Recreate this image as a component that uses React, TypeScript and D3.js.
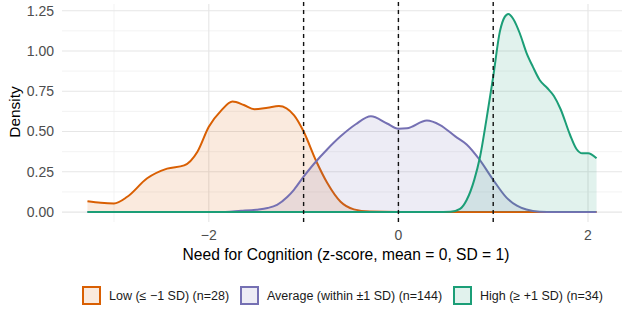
import * as d3 from "d3";

// density curves, [z-score, density]
const lowCurve: [number, number][] = [
  [-3.28, 0.068], [-3.14, 0.058], [-3.0, 0.054], [-2.86, 0.095], [-2.65, 0.21],
  [-2.44, 0.27], [-2.26, 0.29], [-2.12, 0.375], [-2.0, 0.53], [-1.87, 0.63],
  [-1.75, 0.686], [-1.63, 0.665], [-1.52, 0.639], [-1.38, 0.648], [-1.26, 0.658],
  [-1.1, 0.6], [-1.0, 0.5], [-0.87, 0.32], [-0.75, 0.18], [-0.61, 0.064],
  [-0.47, 0.017], [-0.3, 0.003], [0.0, 0], [2.09, 0],
];
const averageCurve: [number, number][] = [
  [-3.28, 0], [-1.9, 0], [-1.66, 0.008], [-1.5, 0.015], [-1.38, 0.025],
  [-1.28, 0.045], [-1.17, 0.095], [-1.1, 0.14], [-1.0, 0.22], [-0.89, 0.3],
  [-0.75, 0.39], [-0.61, 0.47], [-0.45, 0.545], [-0.29, 0.595], [-0.12, 0.55],
  [0.0, 0.518], [0.09, 0.52], [0.3, 0.568], [0.44, 0.54], [0.6, 0.47],
  [0.72, 0.42], [0.85, 0.33], [1.0, 0.2], [1.14, 0.09], [1.25, 0.04],
  [1.35, 0.016], [1.49, 0.002], [1.65, 0], [2.09, 0],
];
const highCurve: [number, number][] = [
  [-3.28, 0], [0.4, 0], [0.55, 0.002], [0.65, 0.02], [0.72, 0.075],
  [0.8, 0.2], [0.86, 0.34], [0.93, 0.58], [1.0, 0.84], [1.07, 1.12],
  [1.12, 1.21], [1.16, 1.23], [1.21, 1.2], [1.28, 1.11], [1.35, 0.99],
  [1.42, 0.9], [1.49, 0.82], [1.57, 0.77], [1.64, 0.72], [1.71, 0.64],
  [1.81, 0.48], [1.88, 0.39], [1.94, 0.365], [2.0, 0.365], [2.09, 0.334],
];

const groupNames = ["Low (≤ −1 SD) (n=28)", "Average (within ±1 SD) (n=144)", "High (≥ +1 SD) (n=34)"];
const groupColors = ["#D95F02", "#7570B3", "#1B9E77"];
const cutoffs = [-1, 0, 1];
const xTicks = [-2, 0, 2];
const xMinor = [-3, -1, 1];
const yTicks = [0, 0.25, 0.5, 0.75, 1, 1.25];
const yMinor = [0.125, 0.375, 0.625, 0.875, 1.125];

const W = 624;
const H = 312;
const panel = { left: 62, right: 622, top: 4, bottom: 222 };
const font = "'Liberation Sans', Arial, sans-serif";

const App = () => {
  const curves = [lowCurve, averageCurve, highCurve];
  const xMin = -3.28, xMax = 2.09;
  const xPad = (xMax - xMin) * 0.05;
  const yMax = d3.max(curves.flat(), d => d[1]) as number;

  const x = d3.scaleLinear().domain([xMin - xPad, xMax + xPad]).range([panel.left, panel.right]);
  const y = d3.scaleLinear().domain([-yMax * 0.05, yMax * 1.05]).range([panel.bottom, panel.top]);

  const area = d3.area<[number, number]>()
    .x(d => x(d[0]))
    .y0(y(0))
    .y1(d => y(d[1]))
    .curve(d3.curveMonotoneX);
  const line = d3.line<[number, number]>()
    .x(d => x(d[0]))
    .y(d => y(d[1]))
    .curve(d3.curveMonotoneX);

  // legend layout
  const legendX = [82, 240, 453];

  return (
    <svg width={W} height={H} style={{ display: "block", position: "absolute", left: 0, top: 0 }}>
      <rect width={W} height={H} fill="#fff" />
      {/* grid */}
      {yMinor.map(v => (
        <line key={"ym" + v} x1={panel.left} x2={panel.right} y1={y(v)} y2={y(v)} stroke="#f0f0f0" strokeWidth={0.8} />
      ))}
      {xMinor.map(v => (
        <line key={"xm" + v} x1={x(v)} x2={x(v)} y1={panel.top} y2={panel.bottom} stroke="#f0f0f0" strokeWidth={0.8} />
      ))}
      {yTicks.map(v => (
        <line key={"y" + v} x1={panel.left} x2={panel.right} y1={y(v)} y2={y(v)} stroke="#e6e6e6" strokeWidth={1.1} />
      ))}
      {xTicks.map(v => (
        <line key={"x" + v} x1={x(v)} x2={x(v)} y1={panel.top} y2={panel.bottom} stroke="#e6e6e6" strokeWidth={1.1} />
      ))}

      {/* densities */}
      {curves.map((c, i) => (
        <g key={i}>
          <path d={area(c) ?? ""} fill={groupColors[i]} fillOpacity={0.13} />
          <path d={line(c) ?? ""} fill="none" stroke={groupColors[i]} strokeWidth={2} />
        </g>
      ))}

      {/* cutoffs */}
      {cutoffs.map(v => (
        <line key={"c" + v} x1={x(v)} x2={x(v)} y1={panel.top - 2} y2={panel.bottom} stroke="#111" strokeWidth={1.4} strokeDasharray="4,4" />
      ))}

      {/* axes labels */}
      {yTicks.map(v => (
        <text key={"yt" + v} x={54} y={y(v)} dy="0.35em" textAnchor="end" fontFamily={font} fontSize={14} fill="#4d4d4d">
          {v.toFixed(2)}
        </text>
      ))}
      {xTicks.map(v => (
        <text key={"xt" + v} x={x(v)} y={235} dy="0.35em" textAnchor="middle" fontFamily={font} fontSize={14} fill="#4d4d4d">
          {v < 0 ? "−" + Math.abs(v) : v}
        </text>
      ))}
      <text x={346} y={255} dy="0.35em" textAnchor="middle" fontFamily={font} fontSize={15.6} fill="#000">
        Need for Cognition (z-score, mean = 0, SD = 1)
      </text>
      <text transform={`translate(19.5,112) rotate(-90)`} textAnchor="middle" fontFamily={font} fontSize={15.4} fill="#000">
        Density
      </text>

      {/* legend */}
      {groupNames.map((name, i) => (
        <g key={name} transform={`translate(${legendX[i]},286)`}>
          <rect x={1} y={1} width={17} height={17} fill={groupColors[i]} fillOpacity={0.13} stroke={groupColors[i]} strokeWidth={2} />
          <text x={27} y={9.5} dy="0.35em" fontFamily={font} fontSize={12.5} fill="#1a1a1a">
            {name}
          </text>
        </g>
      ))}
    </svg>
  );
};

export default App;
